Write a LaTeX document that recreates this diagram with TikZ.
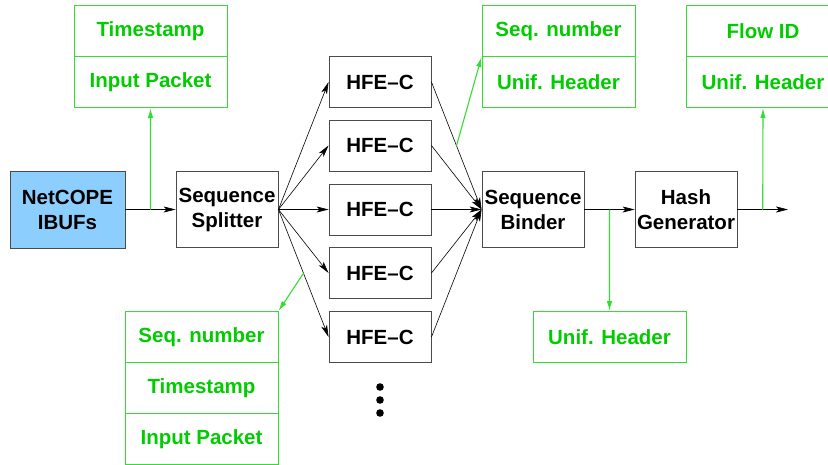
\documentclass[tikz,border=0pt]{standalone}
\usepackage{fontspec}
\setmainfont{Liberation Sans}
\usetikzlibrary{arrows.meta,calc}
\definecolor{boxgray}{HTML}{4A4A4A}
\definecolor{ibufblue}{HTML}{8CCFFF}
\definecolor{fieldtext}{HTML}{00CC00}
\definecolor{fieldline}{HTML}{33DD33}
\tikzset{
  unit/.style={draw=boxgray, line width=0.9pt, rectangle, inner sep=0pt,
    minimum width=102pt, minimum height=76pt, align=center,
    font=\fontsize{20.5}{25}\selectfont\bfseries},
  unit2/.style={unit, text depth=4pt},
  hfe/.style={unit, minimum height=51pt},
  field/.style={draw=fieldline, line width=1pt, rectangle, inner sep=0pt,
    minimum width=153pt, minimum height=51pt, text=fieldtext,
    font=\fontsize{20.5}{25}\selectfont\bfseries},
  flow/.style={draw=black, line width=0.6pt, -{Stealth[length=12pt,width=6pt,inset=3pt]}},
  tap/.style={draw=fieldline, line width=1.1pt, -{Latex[length=10pt,width=5.5pt]}},
}
\begin{document}
\begin{tikzpicture}[x=1pt,y=-1pt]
\useasboundingbox (0,0) rectangle (828,464);

% processing units
\node[unit, fill=ibufblue, minimum width=115pt, minimum height=77pt] (ibuf) at (67.5,209.5) {NetCOPE\\IBUFs};
\node[unit] (split) at (227,209.5) {Sequence\\Splitter};
\node[unit] (bind) at (533,209.5) {Sequence\\Binder};
\node[unit] (hash) at (686,209.5) {Hash\\Generator};
\foreach \i/\y in {1/82, 2/145.5, 3/209.5, 4/273, 5/337}
  \node[hfe] (hfe\i) at (380,\y) {HFE--C};

% continuation dots
\foreach \y in {387,400,413}
  \fill (380,\y) circle (3.8pt);

% data formats
\node[field] (ts1) at (150.5,31) {Timestamp};
\node[field] (ip1) at (150.5,82) {Input Packet};
\node[field] (sn1) at (558.5,31) {Seq. number};
\node[field] (uh1) at (558.5,82) {Unif. Header};
\node[field] (fid) at (763,31) {Flow ID};
\node[field] (uh2) at (763,82) {Unif. Header};
\node[field] (sn2) at (201.5,337) {Seq. number};
\node[field] (ts2) at (201.5,388) {Timestamp};
\node[field] (ip2) at (201.5,439) {Input Packet};
\node[field] (uh3) at (609.5,337) {Unif. Header};

% main data path
\coordinate (out) at (788,209.5);
\coordinate (t1) at ($(ibuf.east)!0.5!(split.west)$);
\coordinate (t2) at ($(bind.east)!0.5!(hash.west)$);
\coordinate (t3) at ($(hash.east)!0.5!(out)$);
\coordinate (t4) at ($(hfe1.east)!0.5!(bind.west)$);
\coordinate (t5) at ($(split.east)!0.5!(hfe5.west)$);

\draw[flow] (ibuf.east) -- (split.west);
\foreach \i in {1,...,5} {
  \draw[flow] (split.east) -- (hfe\i.west);
  \draw[flow] (hfe\i.east) -- (bind.west);
}
\draw[flow] (bind.east) -- (hash.west);
\draw[flow] (hash.east) -- (out);

% format taps
\draw[tap] (t1) -- (ip1.south);
\draw[tap] (t2) -- (uh3.north);
\draw[tap] (t3) -- (uh2.south);
\draw[tap] (t4) -- (sn1.south west);
\draw[tap] (t5) -- (sn2.north east);
\end{tikzpicture}
\end{document}
